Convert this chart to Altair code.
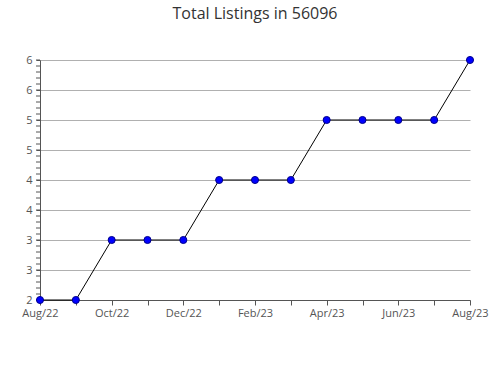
import altair as alt
import pandas as pd

months = ["Aug/22", "Sep/22", "Oct/22", "Nov/22", "Dec/22", "Jan/23", "Feb/23",
          "Mar/23", "Apr/23", "May/23", "Jun/23", "Jul/23", "Aug/23"]
listings = [2, 2, 3, 3, 3, 4, 4, 4, 5, 5, 5, 5, 6]
major_y = [2, 2.5, 3, 3.5, 4, 4.5, 5, 5.5, 6]
minor_y = [round(2 + i * 0.1, 1) for i in range(41)]

df = pd.DataFrame({"idx": list(range(len(months))), "month": months, "listings": listings})
minor_df = pd.DataFrame({"listings": minor_y})

label_expr = "indexof([0,2,4,6,8,10,12], datum.value) >= 0 ? " + \
    "['" + "','".join(months) + "'][datum.value] : ''"

xscale = alt.Scale(domain=[0, 12], nice=False, zero=False)
yscale = alt.Scale(domain=[2, 6], nice=False, zero=False)

line = alt.Chart(df).mark_line(color="black", strokeWidth=1).encode(
    x=alt.X("idx:Q", scale=xscale, axis=alt.Axis(
        values=list(range(13)), tickCount=20, labelExpr=label_expr, grid=False, title=None,
        tickSize=5, tickColor="#555", domainColor="#555", labelColor="#555",
        labelFont="Open Sans", labelFontSize=11, labelPadding=2, labelFlush=False,
        labelOverlap=False)),
    y=alt.Y("listings:Q", scale=yscale, axis=alt.Axis(
        values=major_y, tickCount=20, labelExpr="toString(round(datum.value))", grid=True,
        gridColor="#b0b0b0", title=None, labelOverlap=False,
        tickSize=4, tickColor="#555", domainColor="#555", labelColor="#555",
        labelFont="Open Sans", labelFontSize=11, labelPadding=4)),
)

minor = alt.Chart(minor_df).mark_rule(color="#555", strokeWidth=1).encode(
    x=alt.value(-4), x2=alt.value(0),
    y=alt.Y("listings:Q", scale=yscale),
)

points = alt.Chart(df).mark_point(filled=True, color="#0000ff", size=50, opacity=1,
                                  stroke="#00008b", strokeWidth=1).encode(
    x=alt.X("idx:Q", scale=xscale),
    y=alt.Y("listings:Q", scale=yscale),
)

chart = alt.layer(line, minor, points).properties(
    width=430, height=240,
    autosize=alt.AutoSizeParams(type="none"),
    padding={"left": 40, "top": 60, "right": 20, "bottom": 80},
    title=alt.TitleParams("Total Listings in 56096", font="Open Sans", fontSize=16,
                          fontWeight="normal", color="#333", anchor="middle", offset=32),
).configure_view(stroke=None)

chart.save("out.html", embed_options={"renderer": "svg", "actions": False})
